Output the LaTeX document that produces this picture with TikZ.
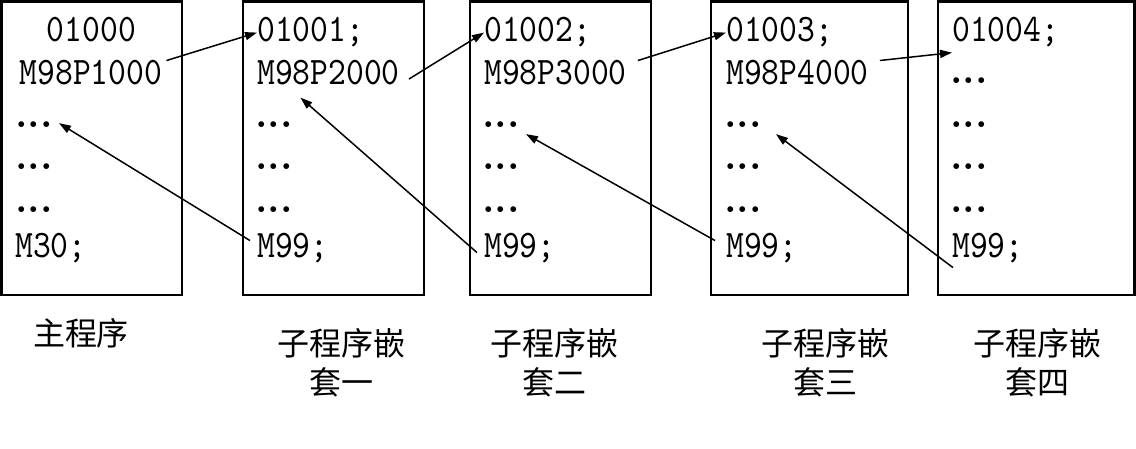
\documentclass[tikz,border=0pt]{standalone}
\usepackage{fontspec}
\newfontfamily\codefont{lmmono10-regular.otf}[FakeStretch=0.87]
\newfontfamily\cjkfont{Noto Sans CJK SC}
\usetikzlibrary{arrows.meta}

\begin{document}
\begin{tikzpicture}[x=1pt,y=-1pt]
    \tikzstyle{every node}=[inner sep=0pt, anchor=base west]
    \tikzstyle{codeline}=[font=\codefont\fontsize{39}{39}\selectfont]
    \tikzstyle{dotline}=[font=\bfseries\fontsize{40}{40}\selectfont]
    \tikzstyle{progname}=[font=\cjkfont\fontsize{32}{39}\selectfont, align=center, anchor=north]
    \tikzstyle{progbox}=[draw, line width=2.5pt]
    \tikzstyle{callarrow}=[-{Triangle[length=12pt,width=8pt]}, line width=1.5pt]

    \useasboundingbox (0,0) rectangle (1136,449);

    % program boxes
    \draw[progbox] (1.5,1.5) rectangle (182,295);
    \draw[progbox] (243,1.5) rectangle (424,295);
    \draw[progbox] (470,1.5) rectangle (651,295);
    \draw[progbox] (711,1.5) rectangle (908,295);
    \draw[progbox] (938,1.5) rectangle (1134.5,295);

    % main program
    \node[codeline, anchor=base] (o1) at (91.5,42) {01000};
    \node[codeline, anchor=base] (m1) at (91,85) {M98P1000};
    \node[dotline] (d1a) at (15,128) {...};
    \node[dotline] (d1b) at (15,170) {...};
    \node[dotline] (d1c) at (15,213) {...};
    \node[codeline] (e1) at (15,258) {M30;};

    % level one
    \node[codeline] (o2) at (257,42) {01001;};
    \node[codeline] (m2) at (257,85) {M98P2000};
    \node[dotline] (d2a) at (255,128) {...};
    \node[dotline] (d2b) at (255,170) {...};
    \node[dotline] (d2c) at (255,213) {...};
    \node[codeline] (r2) at (257,258) {M99;};

    % level two
    \node[codeline] (o3) at (484,42) {01002;};
    \node[codeline] (m3) at (484,85) {M98P3000};
    \node[dotline] (d3a) at (482,128) {...};
    \node[dotline] (d3b) at (482,170) {...};
    \node[dotline] (d3c) at (482,213) {...};
    \node[codeline] (r3) at (484,258) {M99;};

    % level three
    \node[codeline] (o4) at (726,42) {01003;};
    \node[codeline] (m4) at (726,85) {M98P4000};
    \node[dotline] (d4a) at (724,128) {...};
    \node[dotline] (d4b) at (724,170) {...};
    \node[dotline] (d4c) at (724,213) {...};
    \node[codeline] (r4) at (726,258) {M99;};

    % level four
    \node[codeline] (o5) at (952,42) {01004;};
    \node[dotline] (d5a) at (950,84) {...};
    \node[dotline] (d5b) at (950,128) {...};
    \node[dotline] (d5c) at (950,170) {...};
    \node[dotline] (d5d) at (950,213) {...};
    \node[codeline] (r5) at (952,258) {M99;};

    % captions
    \node[progname] (t1) at (81,318) {主程序};
    \node[progname] (t2) at (341,328) {子程序嵌\\套一};
    \node[progname] (t3) at (554,328) {子程序嵌\\套二};
    \node[progname] (t4) at (825,328) {子程序嵌\\套三};
    \node[progname] (t5) at (1037,328) {子程序嵌\\套四};

    % calls
    \draw[callarrow] ([xshift=4pt]m1.north east) -- (o2.west);
    \draw[callarrow] ([xshift=9pt,yshift=-6pt]m2.east) -- (o3.west);
    \draw[callarrow] ([xshift=11pt]m3.north east) -- (o4.west);
    \draw[callarrow] ([xshift=11pt]m4.north east) -- ([yshift=-5pt]o5.south west);

    % returns
    \draw[callarrow] ([xshift=-7pt,yshift=8pt]r2.west) -- ([xshift=6pt,yshift=2pt]d1a.east);
    \draw[callarrow] ([xshift=-7pt,yshift=-4pt]r3.west) -- ([xshift=-28pt,yshift=-12pt]m2.south);
    \draw[callarrow] ([xshift=-11pt,yshift=8pt]r4.west) -- ([xshift=6pt,yshift=-9pt]d3a.east);
    \draw[callarrow] ([xshift=1pt,yshift=-4pt]r5.south west) -- ([xshift=14pt,yshift=-9pt]d4a.east);
\end{tikzpicture}
\end{document}
